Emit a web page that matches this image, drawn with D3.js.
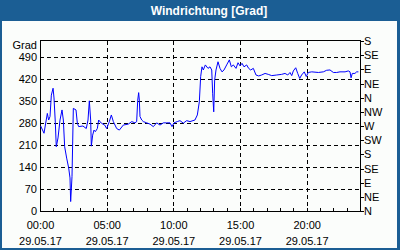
<!DOCTYPE html>
<html><head><meta charset="utf-8">
<script src="https://cdn.jsdelivr.net/npm/d3@7"></script>
<style>
html,body{margin:0;padding:0;background:#1b5e94;}
svg{display:block;}
text{font-family:"Liberation Sans",Arial,sans-serif;}
</style></head><body>
<svg id="c" width="400" height="250"></svg>
<script>
// ---- data ----
const hours = [0.05,0.30,0.55,0.65,0.75,0.85,0.98,1.05,1.15,1.22,1.35,1.5,1.65,1.75,1.85,2.0,2.15,2.25,2.3,2.4,2.5,2.7,2.8,2.9,3.22,3.47,3.6,3.7,3.8,3.85,3.95,4.05,4.15,4.3,4.4,4.6,4.85,5.0,5.2,5.35,5.5,5.75,5.95,6.25,6.62,6.88,7.12,7.25,7.33,7.4,7.45,7.5,7.63,7.75,8.0,8.25,8.5,8.75,9.0,9.25,9.5,9.75,9.9,10.05,10.3,10.5,10.75,11.0,11.25,11.62,11.8,11.95,12.05,12.15,12.25,12.4,12.6,12.75,12.88,12.95,13.03,13.1,13.2,13.35,13.5,13.65,13.8,14.0,14.2,14.35,14.5,14.7,14.85,15.0,15.15,15.3,15.5,15.65,15.8,16.0,16.2,16.4,16.62,16.88,17.12,17.38,17.75,18.12,18.38,18.58,18.75,18.88,19.0,19.18,19.33,19.48,19.62,19.82,19.97,20.12,20.38,20.88,21.25,21.5,21.75,22.0,22.25,22.5,22.88,23.12,23.25,23.33,23.42,23.62,23.75,23.88];
const degrees = [270,247,310,289,300,368,390,359,280,204,232,289,321,289,204,168,137,105,30,109,326,321,279,268,270,262,289,350,289,206,241,257,252,262,289,279,273,262,284,305,284,262,257,273,276,284,280,284,352,376,352,300,289,284,280,276,268,280,273,280,280,280,268,280,284,287,279,287,284,289,305,347,427,458,448,464,453,458,448,374,315,416,448,474,453,442,448,464,480,458,464,453,471,461,469,458,464,453,448,453,432,429,432,437,434,430,432,434,437,432,440,430,445,455,437,421,432,442,427,440,442,440,442,447,448,440,440,442,442,445,442,423,437,437,442,442];
const gradTicks = [0,70,140,210,280,350,420,490];
const dirTicks = [0,45,90,135,180,225,270,315,360,405,450,495,540];
const dirLabels = ["N","NE","E","SE","S","SW","W","NW","N","NE","E","SE","S"];
const timeTicks = [0,5,10,15,20];
const timeLabels = ["00:00","05:00","10:00","15:00","20:00"];
const dateLabels = ["29.05.17","29.05.17","29.05.17","29.05.17","29.05.17"];
const hourTicks = d3.range(0,25,1);
const title = "Windrichtung [Grad]";
const yUnit = "Grad";

// ---- drawing ----
const svg = d3.select("#c");
svg.append("rect").attr("x",0).attr("y",0).attr("width",400).attr("height",250).attr("fill","#1b5e94");
svg.append("rect").attr("x",2).attr("y",21).attr("width",395).attr("height",227).attr("fill","#fbfdfb");
svg.append("text").attr("x",209).attr("y",14.5).attr("text-anchor","middle")
  .attr("fill","#fff").attr("font-weight","bold").attr("font-size","12px").text(title);

const x = d3.scaleLinear().domain([0,24]).range([40,360]);
const y = d3.scaleLinear().domain([0,540]).range([211,41]);
const px = v => Math.round(v)+0.5;

const g = svg.append("g");
// horizontal grid
g.selectAll(".hg").data(gradTicks.filter(d=>d>0)).enter().append("line")
  .attr("x1",40).attr("x2",360).attr("y1",d=>px(y(d))).attr("y2",d=>px(y(d)))
  .attr("stroke","#000").attr("stroke-dasharray","4,3").attr("shape-rendering","crispEdges");
// vertical grid
g.selectAll(".vg").data(timeTicks.filter(d=>d>0)).enter().append("line")
  .attr("x1",d=>px(x(d))).attr("x2",d=>px(x(d))).attr("y1",41).attr("y2",211)
  .attr("stroke","#000").attr("stroke-dasharray","4,3").attr("shape-rendering","crispEdges");
// hour ticks
g.selectAll(".ht").data(hourTicks).enter().append("line")
  .attr("x1",d=>px(x(d))).attr("x2",d=>px(x(d))).attr("y1",208).attr("y2",211)
  .attr("stroke","#000").attr("shape-rendering","crispEdges");
// right ticks
g.selectAll(".rt").data(dirTicks).enter().append("line")
  .attr("x1",360).attr("x2",364).attr("y1",d=>px(y(d))).attr("y2",d=>px(y(d)))
  .attr("stroke","#000").attr("shape-rendering","crispEdges");
// frame
g.append("rect").attr("x",40.5).attr("y",40.5).attr("width",320).attr("height",171)
  .attr("fill","none").attr("stroke","#000").attr("shape-rendering","crispEdges");

// data line
const line = d3.line().x((d,i)=>x(hours[i])).y(d=>y(d));
g.append("path").datum(degrees).attr("d",line).attr("fill","none")
  .attr("stroke","#0000ff").attr("stroke-width",1);

// left labels
g.selectAll(".yl").data(gradTicks).enter().append("text")
  .attr("x",37).attr("y",d=>y(d)+4).attr("text-anchor","end").attr("font-size","11px").attr("fill","#000").text(d=>d);
g.append("text").attr("x",37).attr("y",49).attr("text-anchor","end").attr("font-size","11px").text(yUnit);
// right labels
g.selectAll(".rl").data(dirTicks).enter().append("text")
  .attr("x",364).attr("y",(d)=>y(d)+4).attr("font-size","11px").text((d,i)=>dirLabels[i]);
// x labels
g.selectAll(".xl").data(timeTicks).enter().append("text")
  .attr("x",d=>x(d)+0.5).attr("y",229).attr("text-anchor","middle").attr("font-size","11px").text((d,i)=>timeLabels[i]);
g.selectAll(".dl").data(timeTicks).enter().append("text")
  .attr("x",d=>x(d)+0.5).attr("y",245).attr("text-anchor","middle").attr("font-size","11px").text((d,i)=>dateLabels[i]);
</script>
</body></html>
